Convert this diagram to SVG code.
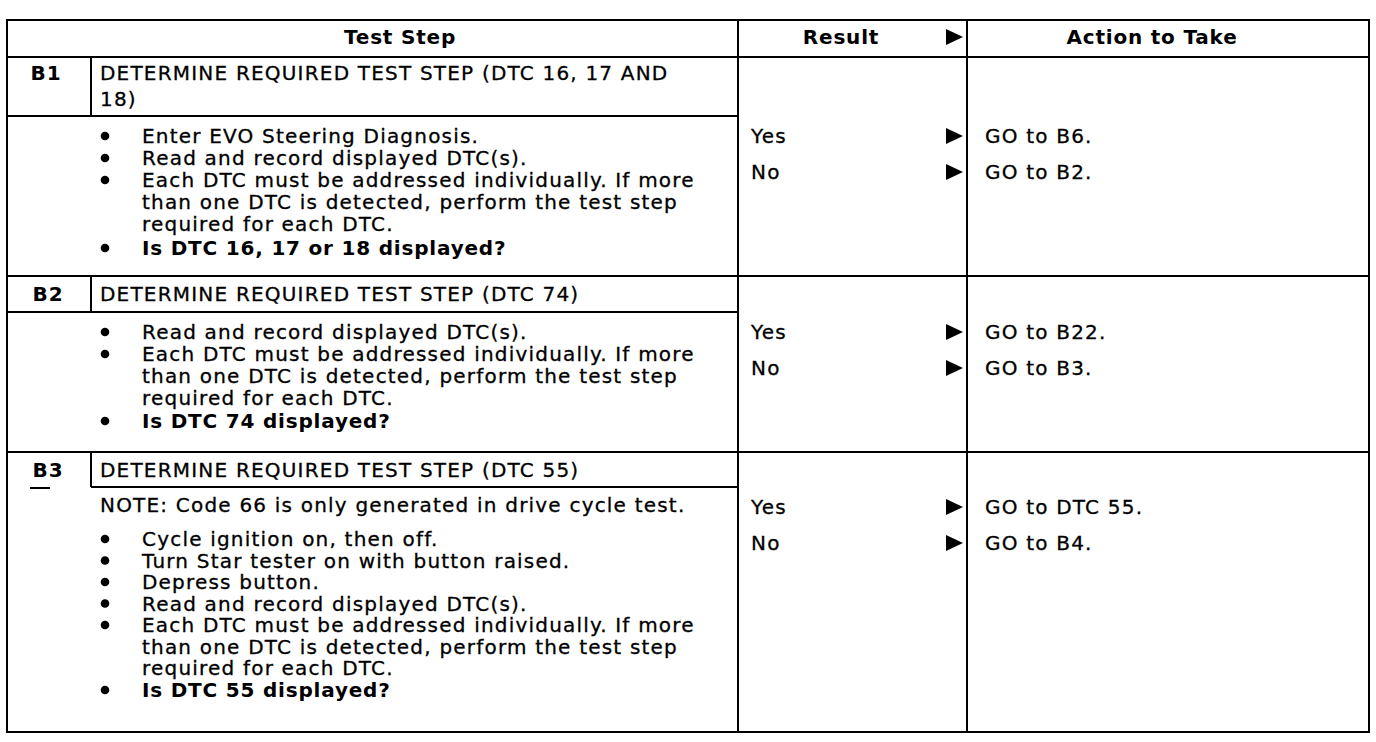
<svg xmlns="http://www.w3.org/2000/svg" width="1376" height="742" viewBox="0 0 1376 742">
<defs>
<style>
.t{font-family:"DejaVu Sans","Liberation Sans",sans-serif;font-size:20px;letter-spacing:1.2px;fill:#000;stroke:#000;stroke-width:0.3px}
.b{font-weight:bold;letter-spacing:0.8px;stroke-width:0}
.m{text-anchor:middle}
.ln{stroke:#000;stroke-width:2;fill:none}
</style>
<path id="tri" d="M0,-8 L17,0 L0,8 Z" fill="#000"/>
<circle id="dot" r="4.3" fill="#000"/>
</defs>
<rect width="1376" height="742" fill="#fff"/>
<g id="grid" class="ln">
<rect x="7" y="20" width="1362" height="712"/>
<line x1="7" y1="57" x2="1369" y2="57"/>
<line x1="7" y1="276" x2="1369" y2="276"/>
<line x1="7" y1="452" x2="1369" y2="452"/>
<line x1="738" y1="20" x2="738" y2="732"/>
<line x1="967" y1="20" x2="967" y2="732"/>
<line x1="7" y1="116" x2="738" y2="116"/>
<line x1="7" y1="312" x2="738" y2="312"/>
<line x1="91" y1="487" x2="738" y2="487"/>
<line x1="30" y1="488" x2="50" y2="488"/>
<line x1="91" y1="57" x2="91" y2="116"/>
<line x1="91" y1="276" x2="91" y2="312"/>
<line x1="91" y1="452" x2="91" y2="487"/>
</g>
<g id="header">
<text class="t b m" x="400" y="44">Test Step</text>
<text class="t b m" x="841" y="44">Result</text>
<use href="#tri" x="946" y="37"/>
<text class="t b m" x="1152" y="44">Action to Take</text>
</g>
<g id="row-b1">
<text class="t b m" x="46" y="80">B1</text>
<text class="t" x="100" y="80">DETERMINE REQUIRED TEST STEP (DTC 16, 17 AND</text>
<text class="t" x="100" y="106">18)</text>
<use href="#dot" x="105" y="136"/>
<text class="t" x="142" y="143">Enter EVO Steering Diagnosis.</text>
<use href="#dot" x="105" y="158"/>
<text class="t" x="142" y="165">Read and record displayed DTC(s).</text>
<use href="#dot" x="105" y="180"/>
<text class="t" x="142" y="187">Each DTC must be addressed individually. If more</text>
<text class="t" x="142" y="209">than one DTC is detected, perform the test step</text>
<text class="t" x="142" y="231">required for each DTC.</text>
<use href="#dot" x="105" y="248"/>
<text class="t b" x="142" y="255">Is DTC 16, 17 or 18 displayed?</text>
<text class="t" x="751" y="143">Yes</text>
<use href="#tri" x="946" y="136"/>
<text class="t" x="985" y="143">GO to B6.</text>
<text class="t" x="751" y="179">No</text>
<use href="#tri" x="946" y="172"/>
<text class="t" x="985" y="179">GO to B2.</text>
</g>
<g id="row-b2">
<text class="t b m" x="48" y="301">B2</text>
<text class="t" x="100" y="301">DETERMINE REQUIRED TEST STEP (DTC 74)</text>
<use href="#dot" x="105" y="332"/>
<text class="t" x="142" y="339">Read and record displayed DTC(s).</text>
<use href="#dot" x="105" y="354"/>
<text class="t" x="142" y="361">Each DTC must be addressed individually. If more</text>
<text class="t" x="142" y="383">than one DTC is detected, perform the test step</text>
<text class="t" x="142" y="405">required for each DTC.</text>
<use href="#dot" x="105" y="421"/>
<text class="t b" x="142" y="428">Is DTC 74 displayed?</text>
<text class="t" x="751" y="339">Yes</text>
<use href="#tri" x="946" y="332"/>
<text class="t" x="985" y="339">GO to B22.</text>
<text class="t" x="751" y="375">No</text>
<use href="#tri" x="946" y="368"/>
<text class="t" x="985" y="375">GO to B3.</text>
</g>
<g id="row-b3">
<text class="t b m" x="48" y="477">B3</text>
<text class="t" x="100" y="477">DETERMINE REQUIRED TEST STEP (DTC 55)</text>
<text class="t" x="100" y="512">NOTE: Code 66 is only generated in drive cycle test.</text>
<use href="#dot" x="105" y="539"/>
<text class="t" x="142" y="546">Cycle ignition on, then off.</text>
<use href="#dot" x="105" y="560.5"/>
<text class="t" x="142" y="567.5">Turn Star tester on with button raised.</text>
<use href="#dot" x="105" y="582"/>
<text class="t" x="142" y="589">Depress button.</text>
<use href="#dot" x="105" y="603.5"/>
<text class="t" x="142" y="610.5">Read and record displayed DTC(s).</text>
<use href="#dot" x="105" y="625"/>
<text class="t" x="142" y="632">Each DTC must be addressed individually. If more</text>
<text class="t" x="142" y="653.5">than one DTC is detected, perform the test step</text>
<text class="t" x="142" y="675">required for each DTC.</text>
<use href="#dot" x="105" y="690"/>
<text class="t b" x="142" y="697">Is DTC 55 displayed?</text>
<text class="t" x="751" y="514">Yes</text>
<use href="#tri" x="946" y="507"/>
<text class="t" x="985" y="514">GO to DTC 55.</text>
<text class="t" x="751" y="550">No</text>
<use href="#tri" x="946" y="543"/>
<text class="t" x="985" y="550">GO to B4.</text>
</g>
</svg>
